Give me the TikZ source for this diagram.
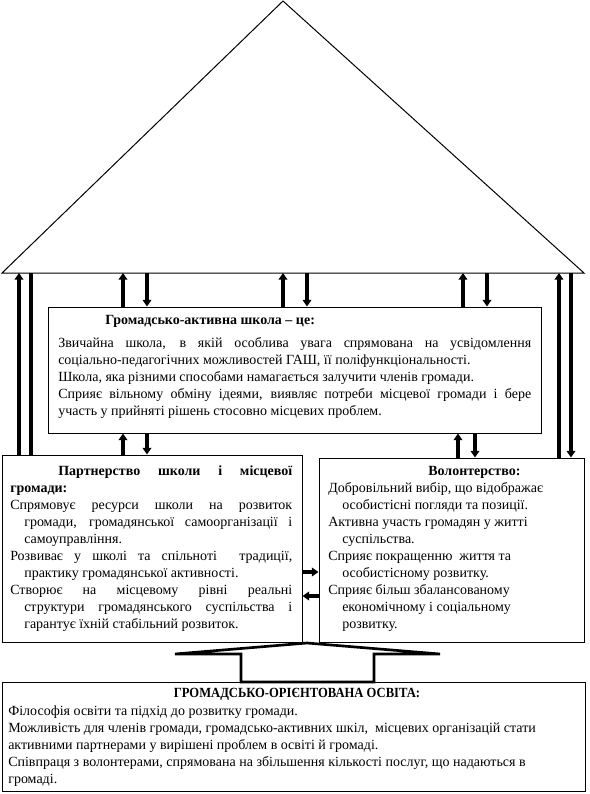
\documentclass[tikz,border=0pt]{standalone}
\usepackage{fontspec}
\usepackage{graphicx}
\setmainfont{Liberation Serif}
\usetikzlibrary{arrows.meta,fit}
\newcommand\JL[2]{\makebox[#1][s]{#2}}
\begin{document}
\begin{tikzpicture}[x=0.75pt,y=-0.75pt,
  box/.style={draw=black,line width=0.75pt,inner sep=0pt,fill=none},
  txt/.style={inner sep=0pt,anchor=north west,align=left,font=\fontsize{10.5}{12.75}\selectfont},
  ttl/.style={inner sep=0pt,anchor=base,font=\fontsize{10.5}{12.75}\selectfont\bfseries},
  thin/.style={line width=0.75pt},
  uparr/.style={line width=3pt,-{Triangle[length=5pt,width=6.5pt]}},
  bar/.style={line width=3pt},
  blockarrow/.style={line width=2pt,fill=white,line join=miter}
]
\useasboundingbox (0,0) rectangle (590,794);
% roof
\coordinate (apex) at (283,1);
\coordinate (rl) at (2,273);
\coordinate (rr) at (584,273);
\draw[thin] (rl) -- (apex) -- (rr) -- cycle;
% boxes
\node[box,fit={(48,307) (541,433)}] (gas) {};
\node[box,fit={(2,455) (302,642)}] (part) {};
\node[box,fit={(319,458) (584,642)}] (vol) {};
\node[box,fit={(2,682) (585,791)}] (edu) {};
% x positions
\coordinate (xa) at (19,0);
\coordinate (xb) at (31,0);
\coordinate (xc) at (123,0);
\coordinate (xd) at (147,0);
\coordinate (xe) at (283,0);
\coordinate (xf) at (307,0);
\coordinate (xg) at (463,0);
\coordinate (xh) at (487,0);
\coordinate (xi) at (458,0);
\coordinate (xj) at (475,0);
\coordinate (xk) at (559,0);
\coordinate (xl) at (571,0);
\coordinate (ya) at (0,572);
\coordinate (yb) at (0,596);
% long side connectors
\draw[uparr] (part.north -| xa) -- (rl -| xa);
\draw[bar] (rl -| xb) -- (part.north -| xb);
\draw[uparr] (vol.north -| xk) -- (rr -| xk);
\draw[uparr] (rr -| xl) -- (vol.north -| xl);
% roof <-> gas
\draw[uparr] (gas.north -| xc) -- (rl -| xc);
\draw[uparr] (rl -| xd) -- (gas.north -| xd);
\draw[uparr] (gas.north -| xe) -- (rl -| xe);
\draw[uparr] (rl -| xf) -- (gas.north -| xf);
\draw[uparr] (gas.north -| xg) -- (rl -| xg);
\draw[uparr] (rl -| xh) -- (gas.north -| xh);
% gas <-> lower boxes
\draw[uparr] (part.north -| xc) -- (gas.south -| xc);
\draw[uparr] (gas.south -| xd) -- (part.north -| xd);
\draw[uparr] (vol.north -| xi) -- (gas.south -| xi);
\draw[uparr] (gas.south -| xj) -- (vol.north -| xj);
% part <-> vol
\draw[uparr] (part.east |- ya) -- (vol.west |- ya);
\draw[uparr] (vol.west |- yb) -- (part.east |- yb);
% block arrow
\draw[blockarrow] (175,654) -- (307,643) -- (440,654) -- (374,654) -- (374,682) -- (241,682) -- (241,654) -- cycle;
% texts
\node[ttl,anchor=base west] (gast) at (105,324) {Громадсько-активна школа – це:};
\node[txt] (gasb) at (58,335) {\strut\JL{354.75pt}{Звичайна школа, в якій особлива увага спрямована на усвідомлення}\\
соціально-педагогічних можливостей ГАШ, її поліфункціональності.\\
Школа, яка різними способами намагається залучити членів громади.\\
\JL{354.75pt}{Сприяє вільному обміну ідеями, виявляє потреби місцевої громади і бере}\\
участь у прийняті рішень стосовно місцевих проблем.};
\node[txt] (partb) at (10,463) {\strut\hspace*{36pt}\JL{175.5pt}{\bfseries Партнерство школи і місцевої}\\
\textbf{громади:}\\
\JL{211.5pt}{Спрямовує ресурси школи на розвиток}\\
\hspace*{10.5pt}\JL{201pt}{громади, громадянської самоорганізації і}\\
\hspace*{10.5pt}самоуправління.\\
\JL{211.5pt}{Розвиває у школі та спільноті \ традиції,}\\
\hspace*{10.5pt}практику громадянської активності.\\
\JL{211.5pt}{Створює на місцевому рівні реальні}\\
\hspace*{10.5pt}\JL{201pt}{структури громадянського суспільства і}\\
\hspace*{10.5pt}гарантує їхній стабільний розвиток.};
\node[txt] (volb) at (328,463) {\strut\hspace*{75pt}\textbf{Волонтерство:}\\
Добровільний вибір, що відображає\\
\hspace*{10.5pt}особистісні погляди та позиції.\\
Активна участь громадян у житті\\
\hspace*{10.5pt}суспільства.\\
Сприяє покращенню \ життя та\\
\hspace*{10.5pt}особистісному розвитку.\\
Сприяє більш збалансованому\\
\hspace*{10.5pt}економічному і соціальному\\
\hspace*{10.5pt}розвитку.};
\node[ttl] (edut) at (297,697) {\scalebox{0.9}[1]{ГРОМАДСЬКО-ОРІЄНТОВАНА ОСВІТА:}};
\node[txt] (edub) at (8,703) {\strut Філософія освіти та підхід до розвитку громади.\\
Можливість для членів громади, громадсько-активних шкіл, \ місцевих організацій стати\\
активними партнерами у вирішені проблем в освіті й громаді.\\
Співпраця з волонтерами, спрямована на збільшення кількості послуг, що надаються в\\
громаді.};
\end{tikzpicture}
\end{document}
